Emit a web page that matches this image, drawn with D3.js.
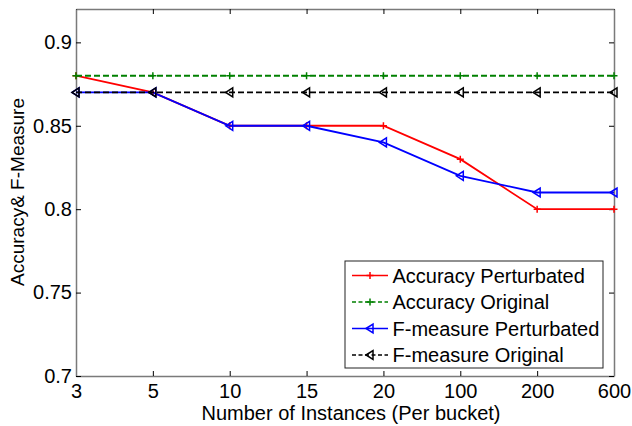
<!DOCTYPE html>
<html>
<head>
<meta charset="utf-8">
<script src="https://cdnjs.cloudflare.com/ajax/libs/d3/7.8.5/d3.min.js"></script>
<style>
  body { margin: 0; background: #fff; }
  text { font-family: "Liberation Sans", Arial, sans-serif; fill: #000; }
</style>
</head>
<body>
<div class="canvas"></div>
<script>
const dims = { width: 632, height: 426 };
const margin = { top: 9, right: 18, bottom: 50, left: 76 };

// data
const buckets = ['3', '5', '10', '15', '20', '100', '200', '600'];
const accPerturbed = [0.88, 0.87, 0.85, 0.85, 0.85, 0.83, 0.80, 0.80];
const accOriginal = [0.88, 0.88, 0.88, 0.88, 0.88, 0.88, 0.88, 0.88];
const fPerturbed = [0.87, 0.87, 0.85, 0.85, 0.84, 0.82, 0.81, 0.81];
const fOriginal = [0.87, 0.87, 0.87, 0.87, 0.87, 0.87, 0.87, 0.87];
const yTicks = [0.7, 0.75, 0.8, 0.85, 0.9];

const series = [
  { name: 'Accuracy Perturbated', values: accPerturbed, colour: '#ff0000', dash: null, marker: 'plus' },
  { name: 'Accuracy Original', values: accOriginal, colour: '#008000', dash: '6,3', marker: 'plus' },
  { name: 'F-measure Perturbated', values: fPerturbed, colour: '#0000ff', dash: null, marker: 'tri' },
  { name: 'F-measure Original', values: fOriginal, colour: '#000000', dash: '6,3', marker: 'tri' }
];

const fontSize = '20px';
const w = dims.width - margin.left - margin.right;
const h = dims.height - margin.top - margin.bottom;

const svg = d3.select('.canvas')
  .append('svg')
  .attr('width', dims.width)
  .attr('height', dims.height);

const graph = svg.append('g')
  .attr('transform', `translate(${margin.left}, ${margin.top})`);

const x = d3.scalePoint().domain(buckets).range([0, w]);
const y = d3.scaleLinear().domain([0.7, 0.92]).range([h, 0]);

// axes (ticks inside, mirrored on top/right)
const axisCol = '#7a7a7a';
const styleAxis = g => {
  g.select('.domain').attr('stroke', axisCol).attr('stroke-width', 1.5);
  g.selectAll('.tick line').attr('stroke', '#000');
  g.selectAll('.tick text').style('font-size', fontSize).attr('fill', '#000');
};

graph.append('g')
  .attr('transform', `translate(0, ${h})`)
  .call(d3.axisBottom(x).tickSizeInner(-5).tickSizeOuter(0).tickPadding(8))
  .call(styleAxis);

graph.append('g')
  .call(d3.axisTop(x).tickSizeInner(-5).tickSizeOuter(0).tickFormat(''))
  .call(styleAxis);

graph.append('g')
  .call(d3.axisLeft(y).tickValues(yTicks).tickFormat(d3.format('')).tickSizeInner(-5).tickSizeOuter(0).tickPadding(4))
  .call(styleAxis);

graph.append('g')
  .attr('transform', `translate(${w}, 0)`)
  .call(d3.axisRight(y).tickValues(yTicks).tickSizeInner(-5).tickSizeOuter(0).tickFormat(''))
  .call(styleAxis);

// marker drawing
const drawMarker = (sel, type, colour) => {
  if (type === 'plus') {
    sel.append('path')
      .attr('d', 'M-3.5,0H3.5M0,-3.5V3.5')
      .attr('stroke', colour)
      .attr('stroke-width', 1.5)
      .attr('fill', 'none');
  } else {
    sel.append('path')
      .attr('d', 'M-4,0L3,-4.5L3,4.5Z')
      .attr('stroke', colour)
      .attr('stroke-width', 1.5)
      .attr('fill', 'none');
  }
};

const line = d3.line()
  .x((d, i) => x(buckets[i]))
  .y(d => y(d));

series.forEach(s => {
  const g = graph.append('g');
  g.append('path')
    .attr('d', line(s.values))
    .attr('fill', 'none')
    .attr('stroke', s.colour)
    .attr('stroke-width', 1.8)
    .attr('stroke-dasharray', s.dash);
  g.selectAll('g.mk')
    .data(s.values)
    .enter()
    .append('g')
      .attr('class', 'mk')
      .attr('transform', (d, i) => `translate(${x(buckets[i])}, ${y(d)})`)
      .each(function() { drawMarker(d3.select(this), s.marker, s.colour); });
});

// legend
const legendGroup = svg.append('g')
  .attr('transform', 'translate(345, 261)');

legendGroup.append('rect')
  .attr('width', 258)
  .attr('height', 107)
  .attr('fill', '#fff')
  .attr('stroke', '#222')
  .attr('stroke-width', 1);

series.forEach((s, i) => {
  const ly = 14.5 + i * 26.5;
  const item = legendGroup.append('g').attr('transform', `translate(0, ${ly})`);
  item.append('line')
    .attr('x1', 7).attr('x2', 43)
    .attr('stroke', s.colour)
    .attr('stroke-width', 1.6)
    .attr('stroke-dasharray', s.dash ? '4,2.5' : null);
  const mk = item.append('g').attr('transform', 'translate(25, 0)');
  drawMarker(mk, s.marker, s.colour);
  item.append('text')
    .attr('x', 47.5)
    .attr('dy', '0.35em')
    .style('font-size', fontSize)
    .text(s.name);
});

// axis labels
svg.append('text')
  .attr('x', 351)
  .attr('y', 420)
  .attr('text-anchor', 'middle')
  .style('font-size', fontSize)
  .text('Number of Instances (Per bucket)');

svg.append('text')
  .attr('transform', 'translate(23.5, 192) rotate(-90)')
  .attr('text-anchor', 'middle')
  .style('font-size', '19px')
  .text('Accuracy& F-Measure');
</script>
</body>
</html>
